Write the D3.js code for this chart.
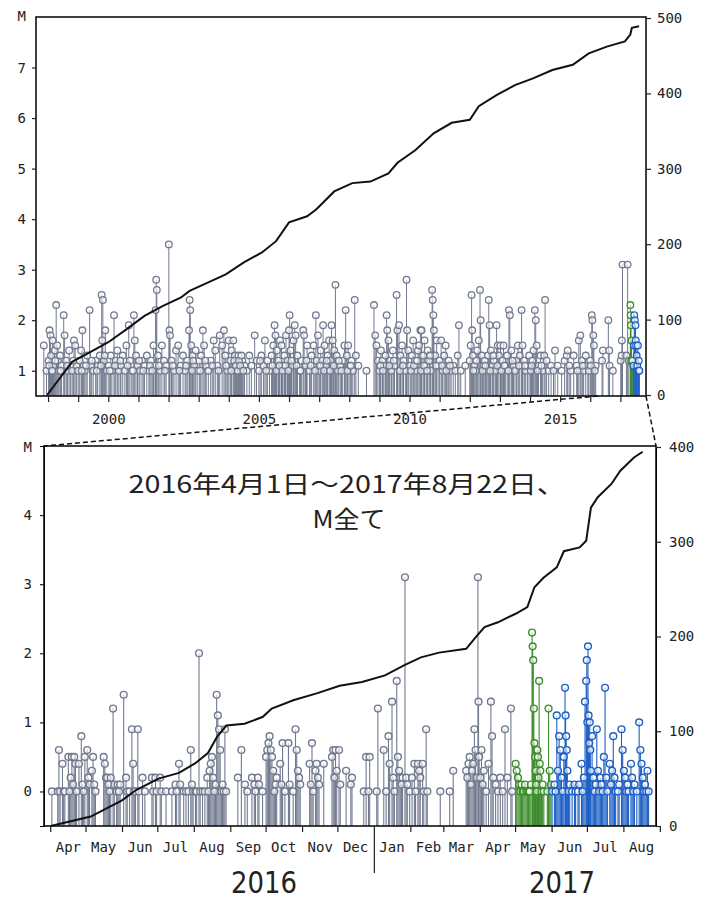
<!DOCTYPE html>
<html>
<head>
<meta charset="utf-8">
<script src="https://cdn.jsdelivr.net/npm/d3@7"></script>
<style>
  body { margin: 0; background: #fff; }
  .axis text { font-family: "DejaVu Sans Mono", monospace; font-size: 14px; fill: #222; }
  .axis line { stroke: #222; stroke-width: 1.2; }
</style>
</head>
<body>
<div class="chart"></div>
<script>
// ---- 上段: 1997年〜2017年 (年, M)
const topEvents = [
  [1997.86,1.5],[1997.95,1.0],[1998.02,1.2],[1998.05,1.8],[1998.08,1.7],[1998.1,1.3],[1998.12,1.0],[1998.15,1.6],
  [1998.18,1.1],[1998.22,1.4],[1998.27,2.3],[1998.3,1.5],[1998.33,1.2],[1998.36,1.0],[1998.4,1.3],[1998.45,1.1],
  [1998.52,2.1],[1998.55,1.7],[1998.6,1.2],[1998.65,1.0],[1998.7,1.4],[1998.75,1.1],[1998.8,1.0],[1998.86,1.6],
  [1998.9,1.5],[1998.95,1.1],[1999.0,1.0],[1999.05,1.2],[1999.1,1.4],[1999.14,1.8],[1999.18,1.1],[1999.22,1.0],
  [1999.3,1.3],[1999.38,2.2],[1999.42,1.1],[1999.5,1.0],[1999.58,1.2],[1999.65,1.1],[1999.72,1.3],[1999.78,2.5],
  [1999.8,1.6],[1999.82,2.4],[1999.85,1.2],[1999.9,1.8],[1999.95,1.0],[2000.02,1.1],[2000.08,1.3],[2000.12,1.0],
  [2000.19,2.1],[2000.25,1.2],[2000.3,1.4],[2000.35,1.0],[2000.42,1.1],[2000.48,1.3],[2000.55,1.0],[2000.6,1.5],
  [2000.68,1.9],[2000.72,1.2],[2000.78,1.0],[2000.85,2.1],[2000.88,1.6],[2000.92,1.3],[2000.97,1.1],[2001.05,1.0],
  [2001.12,1.2],[2001.2,1.1],[2001.28,1.3],[2001.35,1.0],[2001.42,1.2],[2001.5,1.5],[2001.55,1.1],[2001.57,2.2],
  [2001.59,2.8],[2001.61,2.6],[2001.65,1.3],[2001.72,1.0],[2001.78,1.5],[2001.85,1.2],[2001.92,1.1],[2002.01,3.5],
  [2002.03,1.8],[2002.05,1.7],[2002.1,1.2],[2002.18,1.0],[2002.25,1.4],[2002.32,1.5],[2002.4,1.1],[2002.48,1.3],
  [2002.55,1.0],[2002.62,1.2],[2002.68,1.8],[2002.7,2.4],[2002.72,2.2],[2002.75,1.5],[2002.8,1.3],[2002.85,1.1],
  [2002.9,1.4],[2002.95,1.0],[2003.02,1.2],[2003.08,1.3],[2003.14,1.8],[2003.18,1.5],[2003.25,1.1],[2003.32,1.0],
  [2003.4,1.2],[2003.5,1.6],[2003.55,1.4],[2003.62,1.1],[2003.7,1.7],[2003.78,1.5],[2003.84,1.8],[2003.88,1.3],
  [2003.95,1.0],[2004.0,1.6],[2004.05,1.2],[2004.1,1.4],[2004.15,1.6],[2004.2,1.3],[2004.22,1.1],[2004.25,1.0],
  [2004.28,1.2],[2004.32,1.3],[2004.36,1.1],[2004.4,1.0],[2004.45,1.2],[2004.52,1.1],[2004.6,1.0],[2004.68,1.3],
  [2004.75,1.1],[2004.86,1.7],[2004.92,1.2],[2005.0,1.0],[2005.08,1.3],[2005.15,1.1],[2005.2,1.6],[2005.28,1.2],
  [2005.35,1.0],[2005.42,1.3],[2005.48,1.5],[2005.52,1.9],[2005.55,1.7],[2005.6,1.4],[2005.65,1.2],[2005.7,1.6],
  [2005.75,1.5],[2005.8,1.1],[2005.85,1.3],[2005.9,1.7],[2005.95,1.2],[2006.0,1.8],[2006.02,2.1],[2006.05,1.4],
  [2006.1,1.1],[2006.15,1.6],[2006.19,1.9],[2006.22,1.7],[2006.28,1.3],[2006.35,1.0],[2006.42,1.2],[2006.47,1.8],
  [2006.5,1.7],[2006.55,1.1],[2006.6,1.5],[2006.68,1.0],[2006.75,1.3],[2006.82,1.5],[2006.89,2.1],[2006.92,1.2],
  [2006.96,1.7],[2007.0,1.0],[2007.05,1.4],[2007.1,1.2],[2007.13,1.9],[2007.18,1.5],[2007.22,1.1],[2007.28,1.3],
  [2007.33,1.6],[2007.38,1.2],[2007.41,1.9],[2007.45,1.6],[2007.5,1.4],[2007.54,2.7],[2007.58,1.3],[2007.62,1.0],
  [2007.7,1.1],[2007.78,1.2],[2007.84,1.5],[2007.88,2.2],[2007.92,1.3],[2007.96,1.5],[2008.02,1.1],[2008.08,1.2],
  [2008.12,1.0],[2008.18,2.4],[2008.22,1.3],[2008.3,1.1],[2008.57,1.0],[2008.82,2.3],[2008.86,1.7],[2008.9,1.5],
  [2008.95,1.2],[2009.0,1.0],[2009.05,1.4],[2009.1,1.2],[2009.15,1.1],[2009.2,1.3],[2009.24,2.1],[2009.26,1.8],
  [2009.3,1.6],[2009.35,1.2],[2009.4,1.0],[2009.45,1.4],[2009.5,1.1],[2009.57,2.5],[2009.6,1.8],[2009.65,1.9],
  [2009.7,1.3],[2009.75,1.5],[2009.8,1.2],[2009.86,1.0],[2009.9,2.8],[2009.92,1.8],[2009.96,1.4],[2010.02,1.1],
  [2010.08,1.3],[2010.12,1.6],[2010.18,1.2],[2010.22,1.0],[2010.28,1.4],[2010.32,1.5],[2010.36,1.8],[2010.4,1.8],
  [2010.45,1.3],[2010.5,1.6],[2010.55,1.1],[2010.6,1.4],[2010.65,1.2],[2010.7,1.0],[2010.75,2.6],[2010.77,2.4],
  [2010.79,2.1],[2010.81,1.8],[2010.85,1.3],[2010.9,1.6],[2010.95,1.1],[2011.0,1.2],[2011.05,1.6],[2011.1,1.0],
  [2011.15,1.3],[2011.2,1.5],[2011.25,1.1],[2011.3,1.2],[2011.38,1.0],[2011.45,1.1],[2011.52,1.0],[2011.6,1.3],
  [2011.64,1.9],[2011.7,1.0],[2011.85,1.1],[2012.0,1.2],[2012.03,1.5],[2012.06,2.5],[2012.08,1.8],[2012.1,1.3],
  [2012.15,1.1],[2012.2,1.0],[2012.25,1.4],[2012.3,1.6],[2012.34,2.6],[2012.36,2.0],[2012.4,1.3],[2012.45,1.1],
  [2012.5,1.2],[2012.55,1.0],[2012.6,1.3],[2012.63,2.4],[2012.66,1.9],[2012.7,1.4],[2012.75,1.1],[2012.8,1.2],
  [2012.85,1.0],[2012.89,1.9],[2012.93,1.5],[2012.97,1.3],[2013.02,1.5],[2013.08,1.2],[2013.12,1.5],[2013.18,1.1],
  [2013.24,1.3],[2013.3,2.2],[2013.33,2.1],[2013.38,1.4],[2013.45,1.1],[2013.5,1.0],[2013.55,1.2],[2013.6,1.5],
  [2013.66,1.3],[2013.72,2.2],[2013.75,1.5],[2013.8,1.2],[2013.86,1.0],[2013.92,1.1],[2013.97,1.3],[2014.02,1.0],
  [2014.08,1.2],[2014.12,1.4],[2014.16,2.2],[2014.19,2.0],[2014.22,1.5],[2014.28,1.1],[2014.35,1.3],[2014.42,1.0],
  [2014.47,1.3],[2014.5,2.4],[2014.55,1.2],[2014.62,1.0],[2014.7,1.1],[2014.78,1.0],[2014.83,1.4],[2014.92,1.1],
  [2015.05,1.0],[2015.15,1.2],[2015.22,1.3],[2015.25,1.4],[2015.35,1.0],[2015.45,1.3],[2015.55,1.1],[2015.62,1.6],
  [2015.67,1.7],[2015.72,1.2],[2015.78,1.0],[2015.85,1.3],[2015.92,1.1],[2016.0,1.2],[2016.05,2.1],[2016.07,2.0],
  [2016.1,1.7],[2016.12,1.5],[2016.18,1.1],[2016.39,1.2],[2016.42,1.4],[2016.6,2.0],[2016.63,1.4],[2016.64,1.1],
  [2016.75,1.0],[2017.01,1.2],[2017.04,1.3],[2017.05,1.6],[2017.07,3.1],[2017.2,1.3],[2017.24,3.1],[2017.28,1.2],
  [2017.33,2.3],[2017.34,2.1],[2017.35,1.9],[2017.36,1.2],[2017.37,1.6],[2017.4,1.2],[2017.43,1.1],[2017.45,1.5],
  [2017.46,2.1],[2017.48,2.0],[2017.5,1.9],[2017.51,1.6],[2017.52,1.5],[2017.54,1.3],[2017.56,1.1],[2017.58,1.5],
  [2017.6,1.0],[2017.61,1.2],[2017.63,1.0],
  // M1前後の小さな地震
  [1998.04,1.1],[1998.14,1.0],[1998.24,1.2],[1998.42,1.0],[1998.63,1.1],[1998.84,1.2],[1999.12,1.0],[1999.26,1.1],
  [1999.45,1.2],[1999.62,1.0],[1999.76,1.1],[1999.88,1.3],[2000.05,1.0],[2000.22,1.1],[2000.4,1.2],[2000.64,1.1],
  [2000.82,1.0],[2001.02,1.2],[2001.16,1.0],[2001.38,1.1],[2001.46,1.0],[2001.68,1.1],[2001.88,1.0],[2002.14,1.1],
  [2002.36,1.0],[2002.58,1.1],[2002.78,1.0],[2002.82,1.2],[2003.05,1.0],[2003.22,1.2],[2003.45,1.1],[2003.66,1.0],
  [2003.91,1.1],[2004.08,1.0],[2004.18,1.2],[2004.24,1.1],[2004.3,1.0],[2004.34,1.2],[2004.38,1.1],[2004.42,1.3],
  [2004.48,1.0],[2005.04,1.2],[2005.24,1.0],[2005.45,1.1],[2005.58,1.0],[2005.68,1.1],[2005.78,1.0],[2005.88,1.1],
  [2005.98,1.0],[2006.08,1.2],[2006.25,1.1],[2006.38,1.0],[2006.58,1.2],[2006.72,1.1],[2006.86,1.0],[2007.03,1.1],
  [2007.16,1.0],[2007.25,1.2],[2007.36,1.0],[2007.48,1.1],[2007.65,1.2],[2007.74,1.0],[2007.94,1.0],[2008.05,1.1],
  [2009.03,1.1],[2009.12,1.0],[2009.33,1.1],[2009.48,1.2],[2009.68,1.0],[2009.78,1.1],[2010.05,1.0],[2010.15,1.1],
  [2010.25,1.2],[2010.38,1.0],[2010.48,1.1],[2010.58,1.0],[2010.68,1.3],[2010.88,1.1],[2011.08,1.1],[2011.22,1.0],
  [2011.34,1.1],[2012.12,1.0],[2012.22,1.2],[2012.42,1.0],[2012.52,1.1],[2012.68,1.0],[2012.78,1.3],[2012.91,1.1],
  [2013.05,1.0],[2013.15,1.1],[2013.28,1.0],[2013.42,1.2],[2013.63,1.1],[2013.83,1.1],[2014.05,1.1],[2014.25,1.0],
  [2014.38,1.1],[2015.3,1.1],[2015.58,1.0],[2015.75,1.1],[2015.95,1.0],[2016.02,1.1],[2016.15,1.0]
];
// 上段: 積算回数 (年, 回数)
const topCumulative = [
  [1997.97,0],[1998.8,44],[1999.4,57],[2000.0,70],[2000.6,87],[2001.2,105],[2001.8,118],[2002.4,129],
  [2002.7,138],[2003.3,149],[2003.9,160],[2004.5,176],[2005.1,189],[2005.57,204],[2006.0,229],[2006.6,237],
  [2006.9,246],[2007.5,270],[2008.1,281],[2008.7,283],[2009.3,294],[2009.6,308],[2010.2,325],[2010.8,347],
  [2011.4,361],[2012.0,365],[2012.3,383],[2012.9,398],[2013.5,411],[2014.1,420],[2014.74,431],[2015.42,438],
  [2015.95,453],[2016.55,462],[2017.15,469],[2017.33,478],[2017.38,487],[2017.62,489]
];
const topYearTicks = [1998,1999,2000,2001,2002,2003,2004,2005,2006,2007,2008,2009,2010,2011,2012,2013,2014,2015,2016,2017];
const topYearLabels = [2000, 2005, 2010, 2015];
const topMagTicks = [1, 2, 3, 4, 5, 6, 7];
const topCountTicks = [0, 100, 200, 300, 400, 500];

// ---- 下段: 2016年4月1日からの日数, M
const lowerStart = '2016-04-01';
const lowerEvents = [
  [1,0],[6,0],[7,0.6],[8,0],[10,0.4],[11,0],[12,0],[15,0.5],[16,0],[17,0.2],[18,0.5],[19,0.1],[20,0.5],[21,0.4],
  [22,0],[24,0.4],[26,0.8],[27,0.1],[28,0],[29,0.5],[31,0.6],[32,0.2],[33,0.1],[35,0.3],[36,0.5],[37,0.1],[38,0],
  [45,0.5],[46,0.4],[47,0.2],[48,0.2],[49,0.1],[50,0],[51,0.2],[53,1.2],[54,0.1],[56,0],[57,0.1],[58,0],[59,0.1],
  [62,1.4],[64,0.2],[65,0],[67,0],[69,0.9],[70,0.4],[71,0],[72,0],[74,0.9],[75,0],[78,0.2],[80,0],[86,0.2],[87,0],
  [89,0.2],[90,0],[93,0.2],[94,0],[98,0],[103,0],[106,0.1],[107,0],[109,0.4],[110,0.1],[113,0],[115,0],[117,0],
  [119,0.6],[120,0.1],[121,0],[123,0],[124,0],[126,2.0],[127,0],[129,0],[131,0],[133,0.2],[134,0],[135,0.3],
  [136,0.4],[137,0.5],[138,0.2],[139,0],[140,0.1],[141,1.4],[142,1.1],[143,0.9],[144,0.6],[145,0],[146,0.1],
  [147,0],[148,0.9],[149,0],[159,0.2],[162,0.6],[165,0.1],[167,0],[171,0.2],[173,0.1],[174,0],[176,0.2],[177,0.1],
  [180,0],[183,0.5],[184,0.6],[185,0.7],[186,0.8],[187,0.6],[188,0.5],[189,0.3],[190,0],[191,0.1],[192,0.2],
  [195,0.4],[196,0.1],[197,0.7],[199,0],[202,0.7],[203,0.1],[206,0],[208,0.9],[209,0.6],[210,0.3],[211,0.2],
  [212,0.1],[220,0.4],[221,0.1],[222,0.7],[223,0],[225,0.3],[226,0.4],[227,0.2],[228,0.1],[232,0.4],[239,0.5],
  [240,0.6],[241,0.2],[242,0.6],[243,0.3],[245,0.6],[246,0.1],[251,0.3],[255,0.1],[256,0.2],[266,0],[268,0.5],
  [270,0],[271,0.5],[277,0],[278,1.2],[283,0.6],[285,0],[287,0.8],[288,0.4],[290,1.3],[291,0.2],[292,0],[294,1.6],
  [295,0.5],[296,0.3],[297,0.2],[298,0.1],[299,0.2],[301,3.1],[302,0.2],[303,0.1],[305,0],[307,0.2],[309,0.4],
  [310,0],[312,0.4],[313,0.3],[314,0.2],[316,0.4],[317,0],[319,0.9],[320,0],[331,0],[339,0],[342,0.3],[353,0.3],
  [354,0.2],[355,0.4],[356,0.5],[357,0.1],[358,0.3],[359,0.4],[360,0.9],[361,0.6],[362,0.2],[363,3.1],[363.5,1.3],
  [364,0.5],[365,0.2],[366,0.6],[367,0.1],[368,0.3],[370,0],[372,0.4],[374,1.3],[375,0.8],[376,0.2],[378,0.1],
  [380,0],[382,0.2],[384,0],[386,0.9],[388,0.2],[391,1.2],[392,0],
  [395,0.4],[396,0.3],[397,0.2],[398,0.1],[399,0],[400,0.1],[401,0],[402,0],[403,0.1],[404,0],[405,0],[406,0],
  [407,0],[408,0.1],[409,2.3],[409.5,2.1],[410,1.9],[410.5,1.2],[411,0.7],[411.5,0.5],[412,0.3],[412.5,0.1],
  [413,0],[413.5,0.6],[414,0.5],[414.5,0.2],[415,1.6],[415.5,0.4],[416,0.3],[417,0],[418,0.1],[419,0],[422,0],
  [423,1.2],[424,0.3],[425,0.1],[426,0],
  [428,0.1],[429,0],[430,1.1],[431,0.3],[432,0.8],[433,0.6],[434,0.2],[435,0],[436,0.5],[437,1.5],[437.5,1.1],
  [438,0.8],[438.5,0.6],[439,0.3],[440,0],[441,0.1],[443,0],[445,0.1],[446,0],[448,0],[449,0.1],[451,0.4],[452,0],
  [453,0.2],[454,1.3],[455,1.6],[455.5,1.9],[456,1.0],[456.5,2.1],[457,1.1],[457.5,0.7],[458,1.0],[458.5,0.6],
  [459,0.3],[460,0.8],[461,0.2],[462,0],[463,0.1],[464,0.9],[465,0.3],[466,0],[467,0.2],[468,0.1],[469,0],
  [470,0.5],[471,1.5],[472,0.2],[473,0],[475,0.4],[476,0.1],[477,0.3],[478,0.8],[479,0.2],[480,0],[482,0],
  [483,0.1],[485,0.9],[486,0.6],[487,0.3],[488,0.2],[489,0],[490,0.1],[491,0],[493,0.4],[494,0.2],[495,0],
  [496,0.1],[498,0],[500,1.0],[501,0.6],[502,0.4],[503,0.2],[504,0],[505,0.1],[506,0],[507,0.3],[508,0]
];
// 下段: 積算回数 (日数, 回数)
const lowerCumulative = [
  [0,0],[34,10],[60.6,27],[72.5,38],[91.6,50],[109,56],[122.6,66],[133.6,77],[141.3,94],[149.3,106],
  [164.7,108],[180,115],[187.8,124],[206.7,133],[226,140],[245.5,148],[264.5,152],[284,159],[301,170],
  [314.6,178],[330,183],[353,187],[361,199],[368.6,210],[380,215],[395,224],[405,231],[411,252],[418.7,262],
  [430,273],[436,290],[449.4,294],[455,301],[459,336],[464.8,347],[476.4,361],[484,375],[495.6,389],[503,395]
];
const monthLabels = ['Apr','May','Jun','Jul','Aug','Sep','Oct','Nov','Dec','Jan','Feb','Mar','Apr','May','Jun','Jul','Aug'];
const yearLabels = ['2016', '2017'];
const lowerMagTicks = [0, 1, 2, 3, 4];
const lowerCountTicks = [0, 100, 200, 300, 400];
const titleLines = ['2016年4月1日～2017年8月22日、', 'M全て'];

// 色分けの区切り
const greenFrom = '2017-04-29', blueFrom = '2017-06-01';
const colGray = '#727a8f', colGreen = '#3d8c2d', colBlue = '#1d5fc4';

const parse = d3.timeParse('%Y-%m-%d');
const base = parse(lowerStart);
const dayToDate = d => new Date(base.getTime() + d * 864e5);
const greenDay = (parse(greenFrom) - base) / 864e5;
const blueDay = (parse(blueFrom) - base) / 864e5;
const dayColor = d => d >= blueDay ? colBlue : d >= greenDay ? colGreen : colGray;
const yearOf = d => 2016 + (d + 91) / 365;   // 日数 -> 年 (概算)
const yearColor = y => y >= yearOf(blueDay) ? colBlue : y >= yearOf(greenDay) ? colGreen : colGray;

const svg = d3.select('.chart').append('svg')
  .attr('width', 710).attr('height', 899)
  .style('display', 'block');

// ===== 上段 =====
const tp = { l: 36, r: 646, t: 17, b: 396 };
const xTop = d3.scaleLinear().domain([1997.6, 2017.85]).range([tp.l, tp.r]);
const yTopM = d3.scaleLinear().domain([0.5, 8]).range([tp.b, tp.t]);
const yTopN = d3.scaleLinear().domain([0, 500]).range([tp.b - 1, 18]);

const gTop = svg.append('g');
gTop.append('g').selectAll('line').data(topEvents).enter().append('line')
  .attr('x1', d => xTop(d[0])).attr('x2', d => xTop(d[0]))
  .attr('y1', tp.b).attr('y2', d => yTopM(d[1]))
  .attr('stroke', d => yearColor(d[0])).attr('stroke-width', 1);
gTop.append('g').selectAll('circle').data(topEvents).enter().append('circle')
  .attr('cx', d => xTop(d[0])).attr('cy', d => yTopM(d[1])).attr('r', 3.3)
  .attr('fill', '#fff').attr('fill-opacity', 0.6)
  .attr('stroke', d => yearColor(d[0])).attr('stroke-width', 1.3);

gTop.append('path').datum(topCumulative)
  .attr('fill', 'none').attr('stroke', '#111').attr('stroke-width', 2)
  .attr('d', d3.line().x(d => xTop(d[0])).y(d => yTopN(d[1])));

gTop.append('rect').attr('x', tp.l).attr('y', tp.t)
  .attr('width', tp.r - tp.l).attr('height', tp.b - tp.t)
  .attr('fill', 'none').attr('stroke', '#111').attr('stroke-width', 1.6);

const axTopL = gTop.append('g').attr('class', 'axis').attr('transform', `translate(${tp.l},0)`)
  .call(d3.axisLeft(yTopM).tickValues(topMagTicks).tickSize(4).tickPadding(6).tickFormat(d3.format('d')));
axTopL.append('text').attr('x', -10).attr('y', yTopM(8) + 4).attr('text-anchor', 'end').text('M');

gTop.append('g').attr('class', 'axis').attr('transform', `translate(${tp.r},0)`)
  .call(d3.axisRight(yTopN).tickValues(topCountTicks).tickSize(5).tickPadding(6));

gTop.append('g').attr('class', 'axis').attr('transform', `translate(0,${tp.b})`)
  .call(d3.axisBottom(xTop).tickValues(topYearTicks).tickSize(6)
    .tickFormat(d => topYearLabels.includes(d) ? d : '').tickPadding(12));

svg.selectAll('.axis .domain').remove();

// ===== 下段 =====
const lp = { l: 44, r: 656, t: 446, b: 826 };
const xLow = d3.scaleTime().domain([dayToDate(-5.7), dayToDate(514.3)]).range([lp.l, lp.r]);
const yLowM = d3.scaleLinear().domain([-0.5, 5]).range([lp.b, lp.t]);
const yLowN = d3.scaleLinear().domain([0, 400]).range([lp.b, lp.t + 1]);

// 拡大範囲を示す破線
svg.append('g').selectAll('line')
  .data([[xTop(2016.25), lp.l], [tp.r, lp.r]]).enter().append('line')
  .attr('x1', d => d[0]).attr('y1', tp.b)
  .attr('x2', d => d[1]).attr('y2', lp.t)
  .attr('stroke', '#111').attr('stroke-width', 1.5).attr('stroke-dasharray', '5,3');

const gLow = svg.append('g');
gLow.append('g').selectAll('line').data(lowerEvents).enter().append('line')
  .attr('x1', d => xLow(dayToDate(d[0]))).attr('x2', d => xLow(dayToDate(d[0])))
  .attr('y1', lp.b).attr('y2', d => yLowM(d[1]))
  .attr('stroke', d => dayColor(d[0])).attr('stroke-width', 1.1);
gLow.append('g').selectAll('circle').data(lowerEvents).enter().append('circle')
  .attr('cx', d => xLow(dayToDate(d[0]))).attr('cy', d => yLowM(d[1])).attr('r', 3.4)
  .attr('fill', '#fff').attr('fill-opacity', 0.6)
  .attr('stroke', d => dayColor(d[0])).attr('stroke-width', 1.4);

gLow.append('path').datum(lowerCumulative)
  .attr('fill', 'none').attr('stroke', '#111').attr('stroke-width', 2)
  .attr('d', d3.line().x(d => xLow(dayToDate(d[0]))).y(d => yLowN(d[1])));

gLow.append('rect').attr('x', lp.l).attr('y', lp.t)
  .attr('width', lp.r - lp.l).attr('height', lp.b - lp.t)
  .attr('fill', 'none').attr('stroke', '#111').attr('stroke-width', 1.6);

const axLowL = gLow.append('g').attr('class', 'axis').attr('transform', `translate(${lp.l},0)`)
  .call(d3.axisLeft(yLowM).tickValues(lowerMagTicks).tickSize(4).tickPadding(8).tickFormat(d3.format('d')));
axLowL.append('text').attr('x', -12).attr('y', yLowM(5) + 6).attr('text-anchor', 'end').text('M');

gLow.append('g').attr('class', 'axis').attr('transform', `translate(${lp.r},0)`)
  .call(d3.axisRight(yLowN).tickValues(lowerCountTicks).tickSize(5).tickPadding(8));

// 月の目盛り (月初) とラベル (月の中央)
const months = d3.timeMonth.range(base, dayToDate(520));
const yearStart = new Date(2017, 0, 1);
const axLowB = gLow.append('g').attr('class', 'axis').attr('transform', `translate(0,${lp.b})`);
axLowB.selectAll('line').data(months).enter().append('line')
  .attr('x1', d => xLow(d)).attr('x2', d => xLow(d))
  .attr('y1', 0).attr('y2', d => +d === +yearStart ? 47 : 6);
axLowB.selectAll('text').data(monthLabels).enter().append('text')
  .attr('x', (d, i) => xLow(d3.timeDay.offset(months[i], 15)))
  .attr('y', 26).attr('text-anchor', 'middle').text(d => d);

// 年のラベル
svg.append('g').selectAll('text').data(yearLabels).enter().append('text')
  .attr('x', (d, i) => i === 0 ? 264 : 562).attr('y', 893)
  .attr('text-anchor', 'middle')
  .attr('font-family', '"DejaVu Sans", sans-serif').attr('font-size', 30)
  .attr('textLength', 66).attr('lengthAdjust', 'spacingAndGlyphs')
  .attr('fill', '#222').text(d => d);

// タイトル
svg.append('g').selectAll('text').data(titleLines).enter().append('text')
  .attr('x', (d, i) => i === 0 ? 347 : 349).attr('y', (d, i) => i === 0 ? 493 : 528)
  .attr('text-anchor', 'middle')
  .attr('font-family', '"Noto Sans CJK JP", sans-serif').attr('font-size', 24)
  .attr('textLength', (d, i) => i === 0 ? 437 : 73).attr('lengthAdjust', 'spacingAndGlyphs')
  .attr('fill', '#222').text(d => d);
</script>
</body>
</html>
